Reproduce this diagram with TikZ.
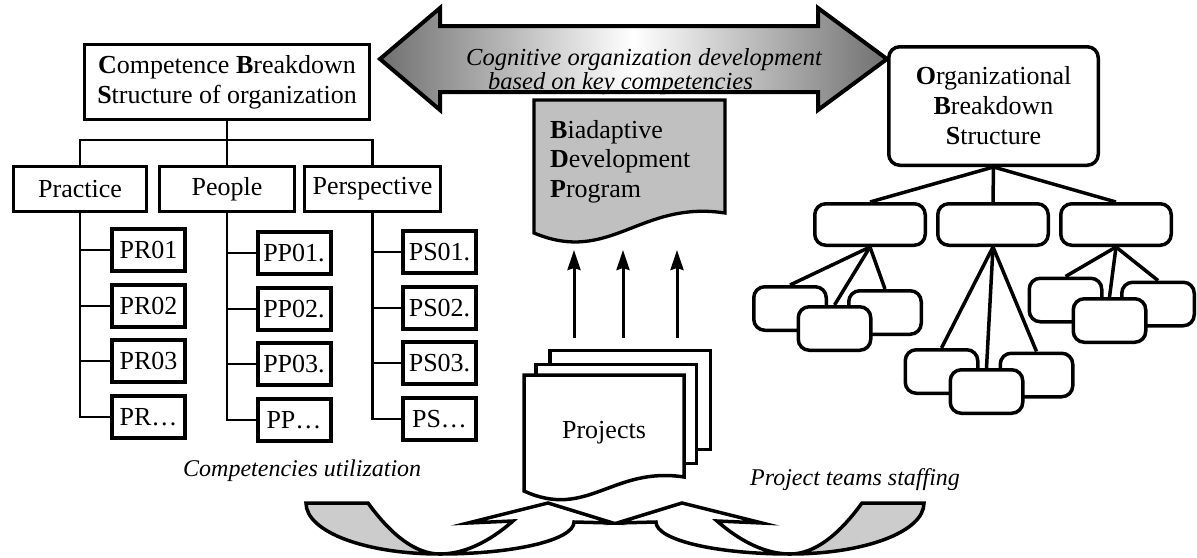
\documentclass[tikz,border=0pt]{standalone}
\usepackage{fontspec}
\setmainfont{Liberation Serif}
\usetikzlibrary{arrows.meta}
\definecolor{docgray}{RGB}{192,192,192}
\definecolor{bandgray}{RGB}{204,204,204}
\definecolor{tipgray}{RGB}{112,112,112}
\begin{document}
\begin{tikzpicture}[x=1pt,y=-1pt,
  every node/.style={inner sep=0pt, font=\fontsize{26}{30}\selectfont},
  headbox/.style={draw, line width=3.3pt, fill=white, align=center},
  catbox/.style={draw, line width=3.3pt, fill=white, minimum height=45pt},
  itembox/.style={draw, line width=4pt, fill=white, minimum width=73pt, minimum height=42pt},
  unitbox/.style={draw, line width=3.5pt, fill=white, rounded corners=11pt},
  midunit/.style={unitbox, minimum width=110.5pt, minimum height=41.5pt},
  smallunit/.style={unitbox, minimum width=72.5pt, minimum height=43.5pt},
  sheet/.style={draw, line width=3.5pt, fill=white, minimum width=160.5pt, minimum height=99pt},
  wire/.style={line width=2.5pt},
  orgwire/.style={line width=3.5pt},
  caption/.style={font=\fontsize{24}{25}\selectfont\itshape},
  outline/.style={line width=3.5pt, line join=miter},
]
\useasboundingbox (0,0) rectangle (1197,557);

% ---- two-headed shaded arrow at the top
\draw[outline, line width=4pt, left color=tipgray, right color=tipgray, middle color=white]
  (380,59) -- (440,8) -- (440,26) -- (818,26) -- (818,8) -- (887,59)
  -- (818,110) -- (818,92) -- (440,92) -- (440,110) -- cycle;
\node[caption, font=\fontsize{24.5}{24}\selectfont\itshape, anchor=north west, align=left] (goal) at (466,48)
  {Cognitive organization development\\\hspace*{22pt}based on key competencies};

% ---- competence breakdown structure
\node[headbox, minimum width=285pt, minimum height=75pt] (cbs) at (227,82)
  {\textbf{C}ompetence \textbf{B}reakdown\\\textbf{S}tructure of organization};
\node[catbox, minimum width=133pt] (practice) at (80,189) {Practice};
\node[catbox, minimum width=135pt] (people) at (227,189) {People};
\node[catbox, minimum width=136pt] (persp) at (372.5,189) {Perspective};
\coordinate (bus) at (227,140);
\draw[wire] (cbs.south) -- (bus);
\draw[wire] (practice.north) |- (bus) -| (persp.north);
\draw[wire] (people.north) -- (people.north |- bus);

\foreach \n/\t/\y in {pr1/PR01/250, pr2/PR02/306, pr3/PR03/361, pr4/PR…/417}
  \node[itembox] (\n) at (148.5,\y) {\t};
\foreach \n/\t/\y in {pp1/PP01./253, pp2/PP02./309, pp3/PP03./364, pp4/PP…/420}
  \node[itembox] (\n) at (294,\y) {\t};
\foreach \n/\t/\y in {ps1/PS01./252, ps2/PS02./308, ps3/PS03./363, ps4/PS…/419}
  \node[itembox] (\n) at (439.5,\y) {\t};

\draw[wire] (practice.south) |- (pr4.west);
\draw[wire] (people.south) |- (pp4.west);
\draw[wire] (persp.south) |- (ps4.west);
\foreach \n in {pr1,pr2,pr3}
  \draw[wire] (\n.west) -- (\n.west -| practice.south);
\foreach \n in {pp1,pp2,pp3}
  \draw[wire] (\n.west) -- (\n.west -| people.south);
\foreach \n in {ps1,ps2,ps3}
  \draw[wire] (\n.west) -- (\n.west -| persp.south);

\node[caption, anchor=base west] (use) at (183,476) {Competencies utilization};

% ---- development program document
\draw[outline, line width=3.3pt, fill=docgray] (534,100) -- (725,100) -- (725,213)
  .. controls (640,200) and (610,265) .. (534,233) -- cycle;
\node[anchor=north west, align=left, font=\fontsize{26}{29.5}\selectfont] (bdp) at (550,120)
  {\textbf{B}iadaptive\\\textbf{D}evelopment\\\textbf{P}rogram};

% ---- projects feed the program
\foreach \i/\x in {1/574, 2/623, 3/677} {
  \coordinate (up\i a) at (\x,338);
  \coordinate (up\i b) at (\x,250);
  \draw[line width=3pt, -{Stealth[length=20pt, width=13pt, inset=2pt]}] (up\i a) -- (up\i b);
}

% ---- stack of project documents
\node[sheet] (sheet3) at (630,400) {};
\node[sheet] (sheet2) at (616,414) {};
\draw[outline, fill=white] (524,375) -- (684,375) -- (684,477)
  .. controls (613,466) and (587,520) .. (524,491) -- cycle;
\node (projects) at (604,433) {Projects};

% ---- twisted ribbon arrows below
% left ribbon: grey tail, white half with head
\filldraw[outline, fill=bandgray] (306,503) -- (368,503)
  .. controls (392,536) and (416,554) .. (440,554)
  .. controls (366,554) and (306,532) .. (306,503) -- cycle;
\filldraw[outline, fill=white] (440,554)
  .. controls (514,554) and (574,540) .. (574,522)
  -- (613,523) -- (548,503) -- (468,523) -- (513,521)
  .. controls (489,542) and (464,554) .. (440,554) -- cycle;
% right ribbon, mirrored
\filldraw[outline, fill=bandgray] (924,503) -- (862,503)
  .. controls (838,536) and (814,554) .. (790,554)
  .. controls (864,554) and (924,532) .. (924,503) -- cycle;
\filldraw[outline, fill=white] (790,554)
  .. controls (716,554) and (656,540) .. (656,522)
  -- (617,523) -- (682,503) -- (762,523) -- (717,521)
  .. controls (741,542) and (766,554) .. (790,554) -- cycle;

% ---- organizational breakdown structure
\node[unitbox, minimum width=209.5pt, minimum height=118.5pt, align=center] (obs) at (993.5,106)
  {\textbf{O}rganizational\\\textbf{B}reakdown\\\textbf{S}tructure};
\node[midunit] (ua) at (870,224.5) {};
\node[midunit] (ub) at (993,224.5) {};
\node[midunit] (uc) at (1116,224.5) {};

\node[smallunit] (ual) at (790,308.5) {};
\node[smallunit] (uar) at (885,312.5) {};
\node[smallunit] (uaf) at (834.5,328.5) {};
\node[smallunit] (ubl) at (941.5,371.5) {};
\node[smallunit] (ubr) at (1036.5,375) {};
\node[smallunit] (ubf) at (986.5,391.5) {};
\node[smallunit] (ucl) at (1065.5,300) {};
\node[smallunit] (ucr) at (1158,304) {};
\node[smallunit] (ucf) at (1109.5,320.5) {};

\foreach \c in {ua,ub,uc}
  \draw[orgwire] (obs.south) -- (\c.north);
\foreach \p in {ua,ub,uc}
  \foreach \s in {l,r,f}
    \draw[orgwire] (\p.south) -- (\p\s.north);

\node[caption, anchor=base west] (staff) at (750,485) {Project teams staffing};
\end{tikzpicture}
\end{document}
